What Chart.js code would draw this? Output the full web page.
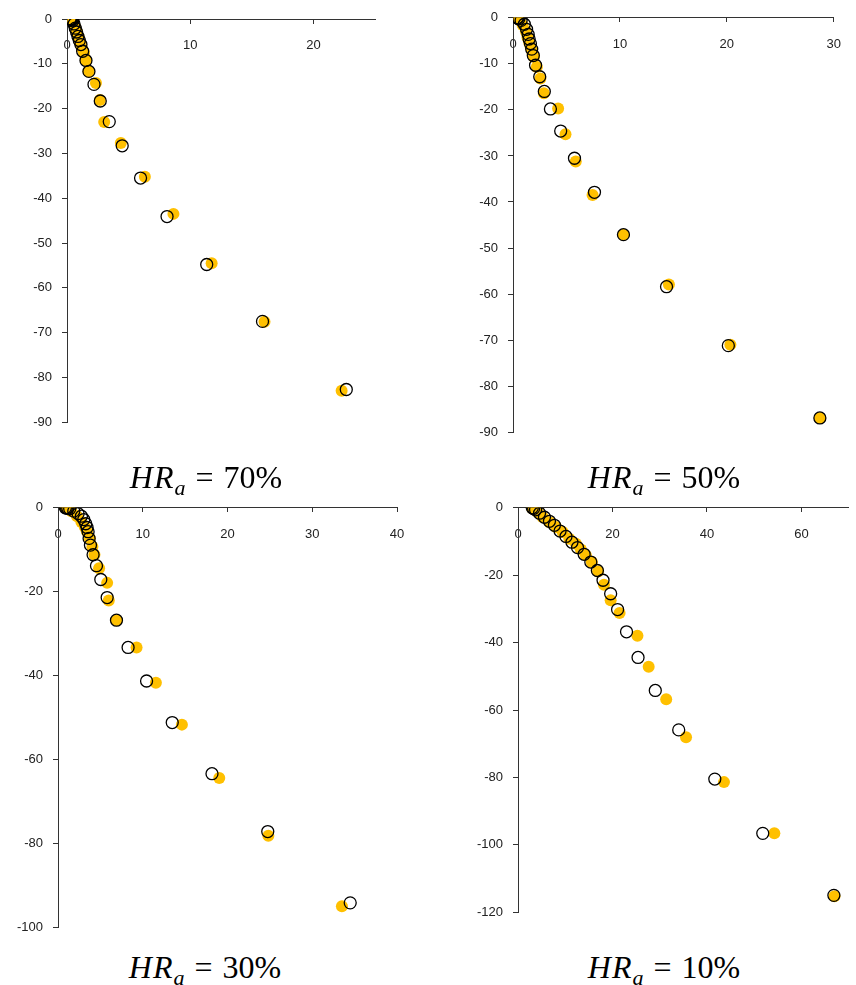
<!DOCTYPE html>
<html>
<head>
<meta charset="utf-8">
<script src="https://cdn.jsdelivr.net/npm/chart.js@4.4.1/dist/chart.umd.min.js"></script>
<style>
  body { margin: 0; background: #fff; width: 856px; height: 985px; position: relative; overflow: hidden; }
  canvas { position: absolute; }
  .title {
    position: absolute; width: 300px; text-align: center;
    font-family: "Liberation Serif", serif; font-size: 32px; color: #000; line-height: 34px;
  }
  .title i { font-style: italic; letter-spacing: 1px; }
  .title sub { font-size: 22px; font-style: italic; vertical-align: -7px; line-height: 0; }
  .title .eq { margin: 0 10px; }
</style>
</head>
<body>
<canvas id="c70" width="430" height="440" style="left:0;top:0"></canvas>
<canvas id="c50" width="426" height="450" style="left:430px;top:0"></canvas>
<canvas id="c30" width="430" height="455" style="left:0;top:490px"></canvas>
<canvas id="c10" width="426" height="440" style="left:430px;top:490px"></canvas>

<div class="title" style="left:56px;top:460px"><i>HR</i><sub>a</sub><span class="eq">=</span>70%</div>
<div class="title" style="left:514px;top:460px"><i>HR</i><sub>a</sub><span class="eq">=</span>50%</div>
<div class="title" style="left:55px;top:950px"><i>HR</i><sub>a</sub><span class="eq">=</span>30%</div>
<div class="title" style="left:514px;top:950px"><i>HR</i><sub>a</sub><span class="eq">=</span>10%</div>

<script>
// ---- данные: HRa = 70% ----
const hr70OpenX = [0.25, 0.3, 0.35, 0.4, 0.46, 0.57, 0.67, 0.78, 0.89, 1.0, 1.13, 1.27, 1.54, 1.78, 2.19, 2.7, 3.43, 4.48, 5.97, 8.12, 11.34, 15.87, 22.67];
const hr70OpenY = [0, -0.05, -0.1, -0.2, -0.4, -1.1, -2.05, -2.9, -3.9, -4.8, -5.7, -7.2, -9.25, -11.7, -14.6, -18.3, -22.9, -28.3, -35.5, -44.1, -54.8, -67.5, -82.7];
const hr70FillX = [0.25, 0.3, 0.36, 0.42, 0.51, 0.67, 0.81, 0.95, 1.05, 1.21, 1.38, 1.54, 1.75, 2.35, 2.67, 3.02, 4.37, 6.32, 8.64, 11.74, 16.03, 22.29];
const hr70FillY = [0, -0.05, -0.15, -0.35, -0.8, -1.8, -2.9, -4.0, -5.2, -6.5, -7.6, -9.2, -11.7, -14.3, -18.1, -23.0, -27.7, -35.2, -43.5, -54.5, -67.6, -83.0];

// ---- HRa = 50% ----
const hr50OpenX = [0.4, 0.45, 0.55, 0.76, 1.06, 1.27, 1.42, 1.51, 1.63, 1.75, 1.9, 2.11, 2.5, 2.93, 3.5, 4.46, 5.75, 7.62, 10.33, 14.36, 20.14, 28.7];
const hr50OpenY = [0, -0.05, -0.2, -0.56, -1.4, -2.5, -3.6, -4.6, -5.6, -6.8, -8.2, -10.3, -12.8, -16.0, -19.8, -24.6, -30.5, -37.9, -47.1, -58.4, -71.2, -86.9];
const hr50FillX = [0.4, 0.45, 0.6, 0.9, 1.21, 1.36, 1.51, 1.66, 1.81, 1.96, 2.23, 2.56, 2.89, 4.22, 4.91, 5.87, 7.44, 10.33, 14.58, 20.33, 28.7];
const hr50FillY = [0, -0.1, -0.5, -1.56, -3.0, -4.3, -5.3, -6.4, -7.5, -8.5, -10.7, -13.2, -16.4, -19.7, -25.3, -31.2, -38.5, -47.1, -57.9, -71.0, -86.9];

// ---- HRa = 30% ----
const hr30OpenX = [0.87, 1.0, 1.15, 1.38, 1.86, 2.37, 2.76, 3.04, 3.27, 3.43, 3.55, 3.67, 3.83, 4.14, 4.54, 5.05, 5.8, 6.9, 8.27, 10.45, 13.48, 18.17, 24.75, 34.48];
const hr30OpenY = [0, -0.05, -0.1, -0.24, -0.8, -1.4, -2.0, -2.8, -3.8, -4.7, -5.7, -7.3, -8.9, -11.2, -13.8, -17.1, -21.4, -26.8, -33.3, -41.3, -51.2, -63.4, -77.2, -94.2];
const hr30FillX = [0.87, 1.0, 1.2, 1.58, 2.25, 2.76, 3.16, 3.43, 3.75, 4.06, 4.3, 4.85, 5.8, 5.99, 6.9, 9.27, 11.55, 14.62, 19.03, 24.82, 33.5];
const hr30FillY = [0, -0.1, -0.3, -0.8, -2.0, -3.4, -4.6, -5.7, -7.3, -9.3, -11.2, -14.4, -17.9, -22.1, -26.8, -33.3, -41.7, -51.7, -64.4, -78.2, -95.0];

// ---- HRa = 10% ----
const hr10OpenX = [3.02, 3.3, 3.72, 4.56, 5.6, 6.66, 7.71, 8.9, 10.16, 11.42, 12.6, 14.0, 15.41, 16.8, 18.0, 19.61, 21.08, 22.97, 25.41, 29.06, 34.02, 41.66, 51.81, 66.86];
const hr10OpenY = [0, -0.2, -0.6, -1.6, -2.8, -4.0, -5.2, -6.9, -8.5, -10.2, -11.8, -13.8, -16.1, -18.6, -21.5, -25.5, -30.2, -36.8, -44.4, -54.2, -65.9, -80.5, -96.6, -115.0];
const hr10FillX = [3.02, 3.5, 4.2, 5.25, 6.66, 8.06, 9.45, 10.86, 12.26, 13.31, 14.36, 15.62, 16.95, 18.2, 19.61, 21.5, 25.28, 27.66, 31.37, 35.57, 43.6, 54.26, 66.99];
const hr10FillY = [-0.2, -0.6, -1.3, -2.8, -4.3, -5.7, -7.2, -9.2, -10.7, -12.4, -14.1, -16.1, -18.9, -22.8, -27.4, -31.2, -38.0, -47.2, -56.8, -68.1, -81.4, -96.6, -115.3];

// шкалы по панелям
const xMaxes = [25, 30, 40, 70];
const xSteps = [10, 10, 10, 20];
const yMins = [-90, -90, -100, -120];
const ySteps = [10, 10, 20, 20];

const AXIS_COLOR = '#333';
const LABEL_FONT = { family: 'Liberation Sans, Arial, sans-serif', size: 13 };

function toPoints(xs, ys) {
    return xs.map((x, i) => ({ x: x, y: ys[i] }));
}

function makePanel(id, fillX, fillY, openX, openY, k, box) {
    const ctx = document.getElementById(id).getContext('2d');
    return new Chart(ctx, {
        type: 'scatter',
        data: {
            datasets: [
                {   // контуры — индекс 0, рисуются поверх
                    data: toPoints(openX, openY),
                    backgroundColor: 'rgba(0,0,0,0)',
                    borderColor: '#000000',
                    borderWidth: 1.3,
                    pointRadius: 6
                },
                {
                    data: toPoints(fillX, fillY),
                    backgroundColor: '#FFC000',
                    borderWidth: 0,
                    pointRadius: 6
                }
            ]
        },
        options: {
            responsive: false,
            animation: false,
            layout: { padding: { left: 0, top: box.top, right: box.right, bottom: box.bottom } },
            plugins: { legend: { display: false }, tooltip: { enabled: false } },
            scales: {
                x: {
                    type: 'linear',
                    position: { y: 0 },
                    min: 0, max: xMaxes[k],
                    ticks: { stepSize: xSteps[k], includeBounds: false, color: '#222', font: LABEL_FONT, padding: 15 },
                    grid: { drawOnChartArea: false, drawTicks: true, tickLength: 4, color: AXIS_COLOR },
                    border: { color: AXIS_COLOR, width: 1 }
                },
                y: {
                    type: 'linear',
                    position: 'left',
                    min: yMins[k], max: 0,
                    ticks: { stepSize: ySteps[k], color: '#222', font: LABEL_FONT, padding: 10 },
                    grid: { drawOnChartArea: false, drawTicks: true, tickLength: 5, color: AXIS_COLOR },
                    border: { color: AXIS_COLOR, width: 1 },
                    afterFit: s => { s.width = box.left; }
                }
            }
        }
    });
}

makePanel('c70', hr70FillX, hr70FillY, hr70OpenX, hr70OpenY, 0, { left: 67, top: 19, right: 55, bottom: 12 });
makePanel('c50', hr50FillX, hr50FillY, hr50OpenX, hr50OpenY, 1, { left: 83, top: 17, right: 9, bottom: 12 });
makePanel('c30', hr30FillX, hr30FillY, hr30OpenX, hr30OpenY, 2, { left: 58, top: 17, right: 33, bottom: 13 });
makePanel('c10', hr10FillX, hr10FillY, hr10OpenX, hr10OpenY, 3, { left: 88, top: 17, right: 4, bottom: 17 });
</script>
</body>
</html>
